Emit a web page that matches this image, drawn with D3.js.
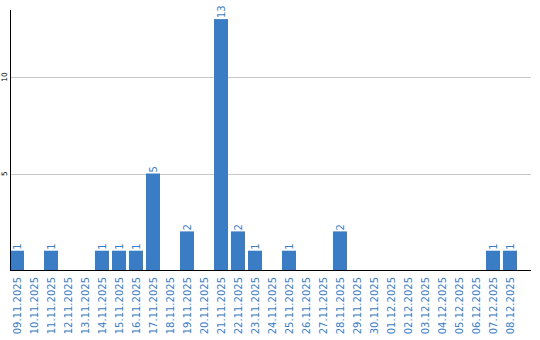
<!DOCTYPE html>
<html>
<head>
  <meta charset="utf-8">
  <title>Daily counts</title>
  <script src="https://d3js.org/d3.v7.min.js"></script>
  <style>
    html, body { margin: 0; padding: 0; background: #fff; }
    svg { display: block; }
    .lbl { font-family: 'DejaVu Sans', sans-serif; }
  </style>
</head>
<body>
  <svg id="chart" width="540" height="340"></svg>
  <script>
  // days and counts
  const days = [
    "09.11.2025", "10.11.2025", "11.11.2025", "12.11.2025", "13.11.2025",
    "14.11.2025", "15.11.2025", "16.11.2025", "17.11.2025", "18.11.2025",
    "19.11.2025", "20.11.2025", "21.11.2025", "22.11.2025", "23.11.2025",
    "24.11.2025", "25.11.2025", "26.11.2025", "27.11.2025", "28.11.2025",
    "29.11.2025", "30.11.2025", "01.12.2025", "02.12.2025", "03.12.2025",
    "04.12.2025", "05.12.2025", "06.12.2025", "07.12.2025", "08.12.2025"
  ];
  const counts = [1, 0, 1, 0, 0, 1, 1, 1, 5, 0, 2, 0, 13, 2, 1, 0, 1, 0, 0, 2, 0, 0, 0, 0, 0, 0, 0, 0, 1, 1];
  const yTicks = [5, 10];

  const barColor = "#3b7dc4";
  const svg = d3.select("#chart");

  const plotLeft = 10, plotRight = 531, plotTop = 10, plotBottom = 270;

  const x = d3.scaleBand()
    .domain(days)
    .range([plotLeft, plotLeft + days.length * 17])
    .paddingInner(3 / 17)
    .paddingOuter(3 / 34)
    .align(0);

  const y = d3.scaleLinear()
    .domain([0, 10])
    .range([plotBottom, 77]);

  // grid lines
  svg.append("g")
    .selectAll("line")
    .data(yTicks)
    .join("line")
    .attr("x1", plotLeft).attr("x2", plotRight)
    .attr("y1", d => Math.round(y(d)) + 0.5)
    .attr("y2", d => Math.round(y(d)) + 0.5)
    .attr("stroke", "#c8c8c8")
    .attr("stroke-width", 1);

  // y tick labels, rotated
  svg.append("g")
    .selectAll("text")
    .data(yTicks)
    .join("text")
    .attr("class", "lbl")
    .attr("transform", d => `translate(7,${y(d)}) rotate(-90)`)
    .attr("text-anchor", "middle")
    .attr("font-size", 7.5)
    .attr("fill", "#000")
    .text(d => d);

  const data = days.map((d, i) => ({ day: d, value: counts[i] }));

  // bars
  svg.append("g")
    .selectAll("rect")
    .data(data.filter(d => d.value > 0))
    .join("rect")
    .attr("x", d => x(d.day))
    .attr("width", x.bandwidth())
    .attr("y", d => y(d.value))
    .attr("height", d => y(0) - y(d.value))
    .attr("fill", barColor);

  // value labels
  svg.append("g")
    .selectAll("text")
    .data(data.filter(d => d.value > 0))
    .join("text")
    .attr("class", "lbl")
    .attr("transform", d => `translate(${x(d.day) + x.bandwidth() / 2 + 4},${y(d.value) - 1}) rotate(-90)`)
    .attr("font-size", 10)
    .attr("fill", barColor)
    .text(d => d.value);

  // day labels
  svg.append("g")
    .selectAll("text")
    .data(days)
    .join("text")
    .attr("class", "lbl")
    .attr("transform", d => `translate(${x(d) + x.bandwidth() / 2 + 4},${plotBottom + 7}) rotate(-90)`)
    .attr("text-anchor", "end")
    .attr("font-size", 10)
    .attr("fill", barColor)
    .text(d => d);

  // axis lines
  svg.append("line")
    .attr("x1", plotLeft + 0.5).attr("x2", plotLeft + 0.5)
    .attr("y1", plotTop).attr("y2", plotBottom)
    .attr("stroke", "#000");
  svg.append("line")
    .attr("x1", plotLeft).attr("x2", plotRight)
    .attr("y1", plotBottom + 0.5).attr("y2", plotBottom + 0.5)
    .attr("stroke", "#000");
  </script>
</body>
</html>
